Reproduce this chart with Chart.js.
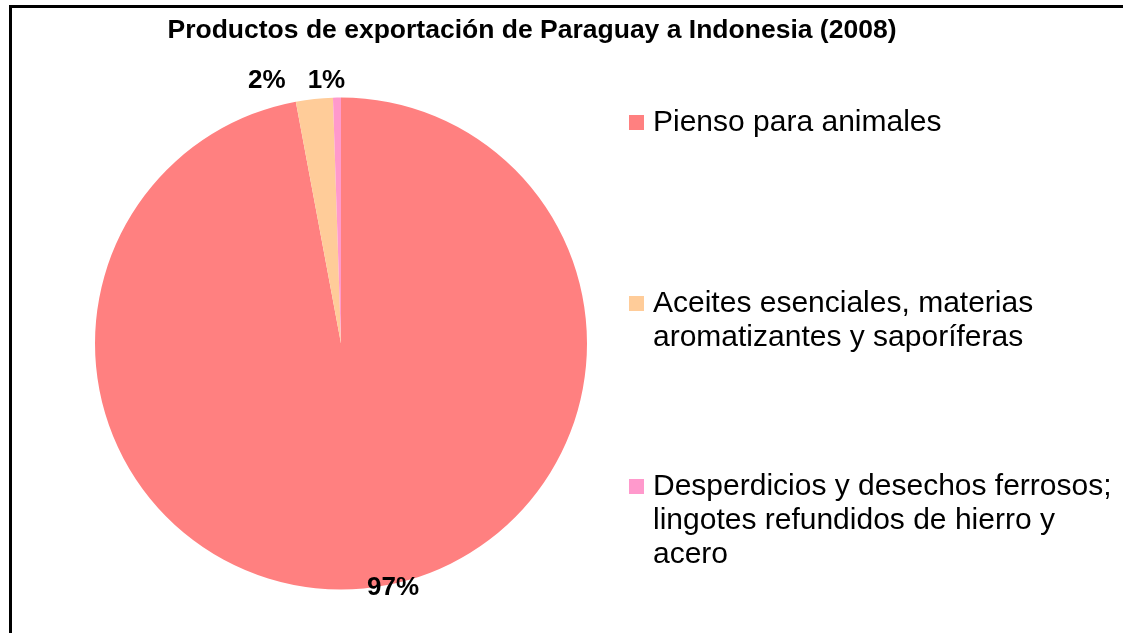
<!DOCTYPE html>
<html>
<head>
<meta charset="utf-8">
<script src="https://cdn.jsdelivr.net/npm/chart.js@4/dist/chart.umd.min.js"></script>
<style>
  html, body { margin: 0; padding: 0; background: #fff; }
  body { width: 1123px; height: 633px; position: relative; overflow: hidden;
         font-family: "Liberation Sans", Arial, sans-serif; }
  #frame { position: absolute; left: 9px; top: 5px; width: 1200px; height: 700px;
           border: 3px solid #000; box-sizing: border-box; }
  #wrap { position: absolute; left: 0; top: 0; width: 1123px; height: 633px; }
  #title { position: absolute; left: 0; top: 14px; width: 1064px; text-align: center;
           font-weight: bold; font-size: 26.5px; line-height: 30px; color: #000; letter-spacing: 0px; }
  .leg { position: absolute; left: 629px; font-size: 30px; line-height: 34px; color: #000; }
  .leg .sw { position: absolute; left: 0; top: 11px; width: 15px; height: 15px; }
  .leg .tx { position: absolute; left: 24px; top: 0; white-space: nowrap; }
</style>
</head>
<body>
<div id="frame"></div>
<div id="wrap"><canvas id="c" width="1123" height="633"></canvas></div>
<div id="title"></div>
<div id="legend"></div>
<script>
const chartTitle = 'Productos de exportación de Paraguay a Indonesia (2008)';
const categories = [
  ['Pienso para animales'],
  ['Aceites esenciales, materias', 'aromatizantes y saporíferas'],
  ['Desperdicios y desechos ferrosos;', 'lingotes refundidos de hierro y', 'acero']
];
const shares = [97.06, 2.42, 0.52];
const colors = ['#FF8080', '#FFCC99', '#FF99CC'];

document.getElementById('title').textContent = chartTitle;

// HTML legend (layout constants only)
const legendTops = [104, 285, 468];
const legendEl = document.getElementById('legend');
categories.forEach((lines, i) => {
  const d = document.createElement('div');
  d.className = 'leg';
  d.style.top = legendTops[i] + 'px';
  const sw = document.createElement('div');
  sw.className = 'sw';
  sw.style.background = colors[i];
  const tx = document.createElement('div');
  tx.className = 'tx';
  lines.forEach((ln, j) => {
    if (j) tx.appendChild(document.createElement('br'));
    tx.appendChild(document.createTextNode(ln));
  });
  d.appendChild(sw); d.appendChild(tx);
  legendEl.appendChild(d);
});

// percentage labels drawn next to each slice
const labelNudge = [[29, -4.5], [-47, -14], [-10.5, -12.5]];
const pctLabels = {
  id: 'pctLabels',
  afterDatasetsDraw(chart) {
    const ctx = chart.ctx;
    const meta = chart.getDatasetMeta(0);
    const data = chart.data.datasets[0].data;
    const total = data.reduce((a, b) => a + b, 0);
    ctx.save();
    ctx.font = 'bold 26px "Liberation Sans", Arial, sans-serif';
    ctx.fillStyle = '#000';
    ctx.textAlign = 'center';
    ctx.textBaseline = 'middle';
    meta.data.forEach((arc, i) => {
      const p = arc.getProps(['x', 'y', 'startAngle', 'endAngle', 'outerRadius'], true);
      const mid = (p.startAngle + p.endAngle) / 2;
      const R = p.outerRadius + 4;
      const x = p.x + Math.cos(mid) * R + labelNudge[i][0];
      const y = p.y + Math.sin(mid) * R + labelNudge[i][1];
      ctx.fillText(Math.round(data[i] / total * 100) + '%', x, y);
    });
    ctx.restore();
  }
};

new Chart(document.getElementById('c'), {
  type: 'pie',
  data: {
    labels: categories,
    datasets: [{
      data: shares,
      backgroundColor: colors,
      borderWidth: 0,
      hoverOffset: 0
    }]
  },
  options: {
    responsive: false,
    animation: false,
    devicePixelRatio: 1,
    layout: { padding: { left: 95, right: 536, top: 97.5, bottom: 43.5 } },
    plugins: {
      legend: { display: false },
      title: { display: false },
      tooltip: { enabled: false }
    }
  },
  plugins: [pctLabels]
});
</script>
</body>
</html>
